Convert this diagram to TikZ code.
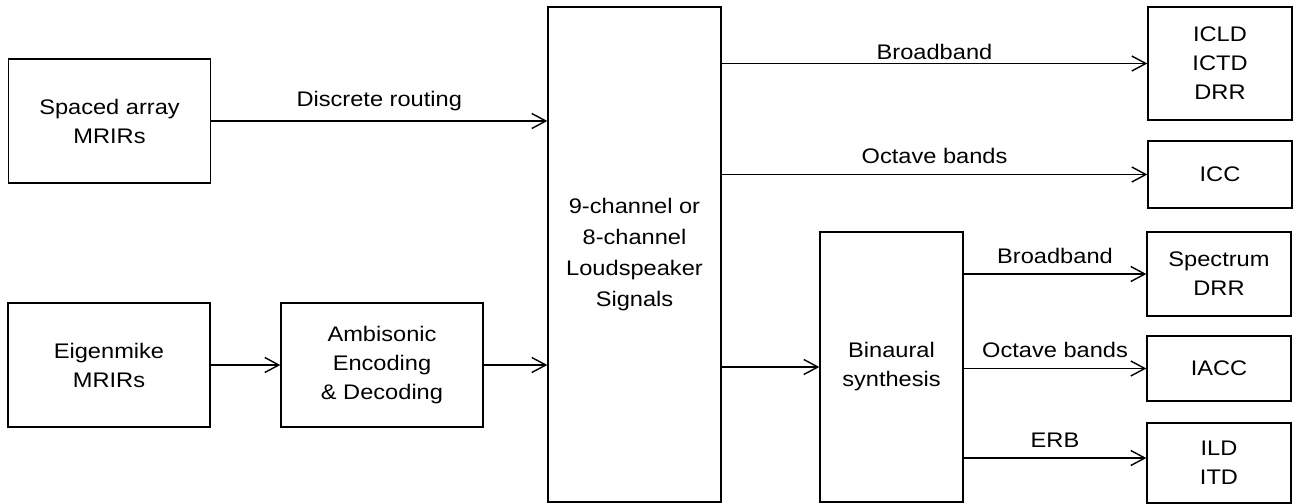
\documentclass[tikz,border=0pt]{standalone}
\usepackage{fontspec}
\setmainfont{Liberation Sans}[FakeStretch=1.12]
\usetikzlibrary{arrows.meta}

\begin{document}
\begin{tikzpicture}[thick,>={Straight Barb[length=2.8mm,width=3mm]},
        font=\fontsize{12}{16.5}\selectfont,
        block node/.style={rectangle,draw,align=center,inner sep=2pt},
        wide node/.style={block node,minimum width=4.04cm,minimum height=2.48cm},
        out node/.style={block node,minimum width=2.88cm}]
                \useasboundingbox (0,0) rectangle (25.92,-10.08);

                \node[wide node] at (2.19, -2.42) (sa) {Spaced array\\MRIRs};
                \node[wide node] at (2.18, -7.30) (em) {Eigenmike\\MRIRs};
                \node[wide node] at (7.64, -7.30) (amb) {Ambisonic\\Encoding\\\& Decoding};
                \node[block node,minimum width=3.46cm,minimum height=9.90cm,font=\fontsize{12}{17.5}\selectfont] at (12.69, -5.09) (ls) {9-channel or\\8-channel\\Loudspeaker\\Signals};
                \node[block node,minimum width=2.86cm,minimum height=5.40cm] at (17.83, -7.34) (bin) {Binaural\\synthesis};

                \node[out node,minimum height=2.26cm] at (24.40, -1.27) (icld) {ICLD\\ICTD\\DRR};
                \node[out node,minimum height=1.34cm] at (24.40, -3.49) (icc) {ICC};
                \node[out node,minimum height=1.68cm] at (24.38, -5.48) (spec) {Spectrum\\DRR};
                \node[out node,minimum height=1.30cm] at (24.38, -7.37) (iacc) {IACC};
                \node[out node,minimum height=1.60cm] at (24.38, -9.26) (ild) {ILD\\ITD};
                \coordinate (erb) at ([yshift=1mm]ild.west);

                \path[->,every node/.style={yshift=0.8mm}]
                    (sa.east) edge node [above] {Discrete routing} (ls.west |- sa.east)
                    (em) edge (amb)
                    (amb.east) edge (ls.west |- amb.east)
                    (ls.east |- icld) edge node [above,yshift=-1.4mm] {Broadband} (icld)
                    (ls.east |- icc) edge node [above] {Octave bands} (icc)
                    (ls.east |- bin) edge (bin)
                    (bin.east |- spec) edge node [above] {Broadband} (spec)
                    (bin.east |- iacc) edge node [above] {Octave bands} (iacc)
                    (bin.east |- erb) edge node [above] {ERB} (erb)
                    ;
            \end{tikzpicture}
\end{document}
